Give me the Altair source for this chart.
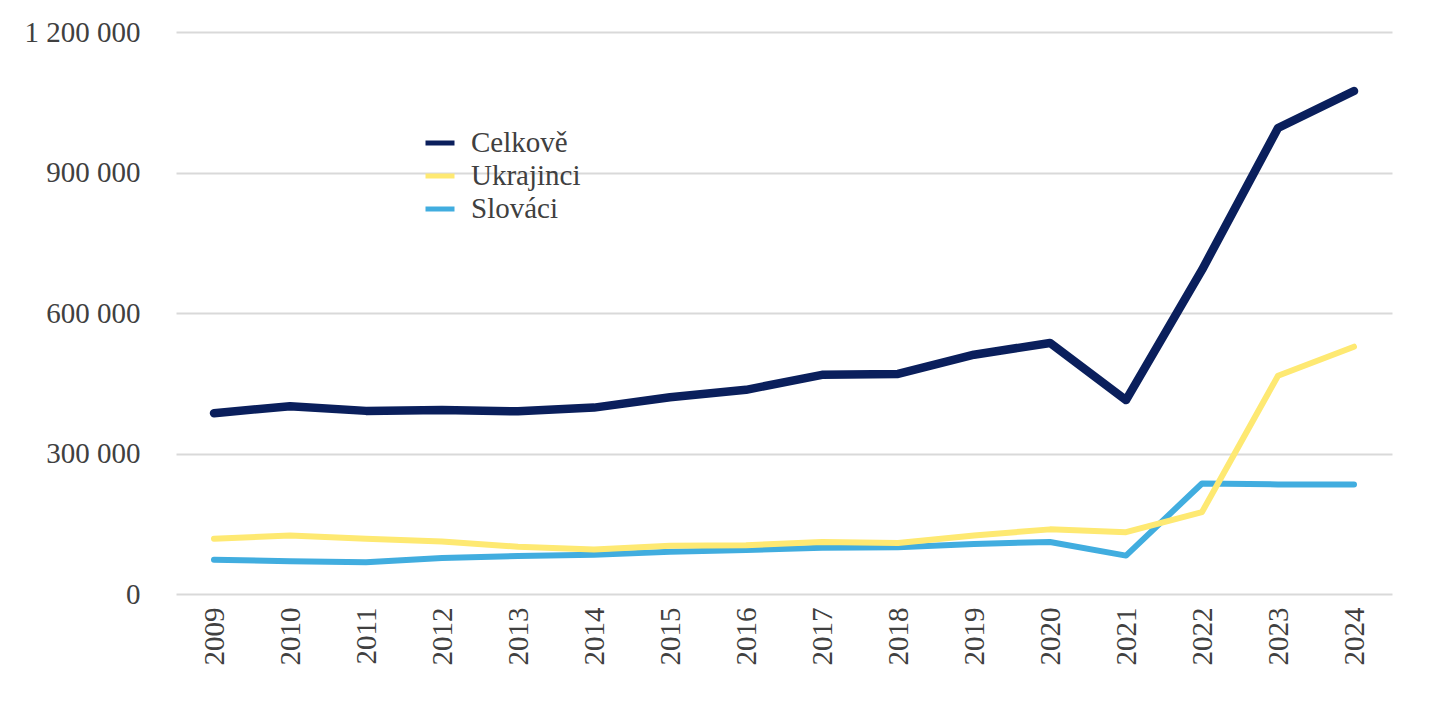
import altair as alt
import pandas as pd

years = [str(y) for y in range(2009, 2025)]
series_names = ["Celkově", "Ukrajinci", "Slováci"]
celkove = [386000, 401000, 391000, 393000, 390000, 398000, 420000, 436000,
           468000, 470000, 511000, 536000, 414000, 692000, 995000, 1074000]
ukrajinci = [118000, 125000, 118000, 112000, 101000, 95000, 103000, 104000,
             111000, 109000, 125000, 138000, 132000, 175000, 466000, 528000]
slovaci = [73000, 70000, 68000, 77000, 81000, 84000, 90000, 94000,
           99000, 100000, 107000, 111000, 82000, 236000, 234000, 234000]
colors = ["#0a1f5c", "#fee972", "#41addf"]
y_ticks = [0, 300000, 600000, 900000, 1200000]

rows = []
for name, vals in zip(series_names, [celkove, ukrajinci, slovaci]):
    for yr, v in zip(years, vals):
        rows.append({"rok": yr, "pocet": v, "serie": name})
df = pd.DataFrame(rows)

FONT = "Liberation Serif"
TXT = "#404040"

x_enc = alt.X("rok:O", title=None,
              scale=alt.Scale(type="point", padding=0.5),
              axis=alt.Axis(labelAngle=270, labelFontSize=29, labelFont=FONT,
                            labelColor=TXT, ticks=False, domain=False,
                            labelPadding=13, grid=False))
y_enc = alt.Y("pocet:Q", title=None,
              scale=alt.Scale(domain=[0, 1200000], nice=False),
              axis=alt.Axis(values=y_ticks, labelFontSize=29, labelFont=FONT,
                            labelColor=TXT, ticks=False, domain=False,
                            labelPadding=36, gridColor="#d9d9d9", gridWidth=2,
                            labelExpr="replace(format(datum.value, ','), regexp(',', 'g'), ' ')"))
color_enc = alt.Color("serie:N", title=None,
                      scale=alt.Scale(domain=series_names, range=colors),
                      legend=alt.Legend(orient="none", legendX=247, legendY=94,
                                        symbolType="stroke", symbolSize=841,
                                        symbolStrokeWidth=5, labelFontSize=29,
                                        labelFont=FONT, labelColor=TXT,
                                        rowPadding=1, labelOffset=14, padding=0))

def layer(name, width):
    return (alt.Chart(df)
            .transform_filter(alt.datum.serie == name)
            .mark_line(strokeWidth=width, strokeCap="round", strokeJoin="round")
            .encode(x=x_enc, y=y_enc, color=color_enc))

chart = (alt.layer(layer("Slováci", 6), layer("Ukrajinci", 6), layer("Celkově", 8.5))
         .properties(width=1216, height=562, background="white",
                     autosize=alt.AutoSizeParams(type="none"),
                     padding={"left": 168, "top": 24, "right": 40, "bottom": 100})
         .configure_view(stroke=None))

chart.save("out.html", embed_options={"renderer": "svg", "actions": False})
